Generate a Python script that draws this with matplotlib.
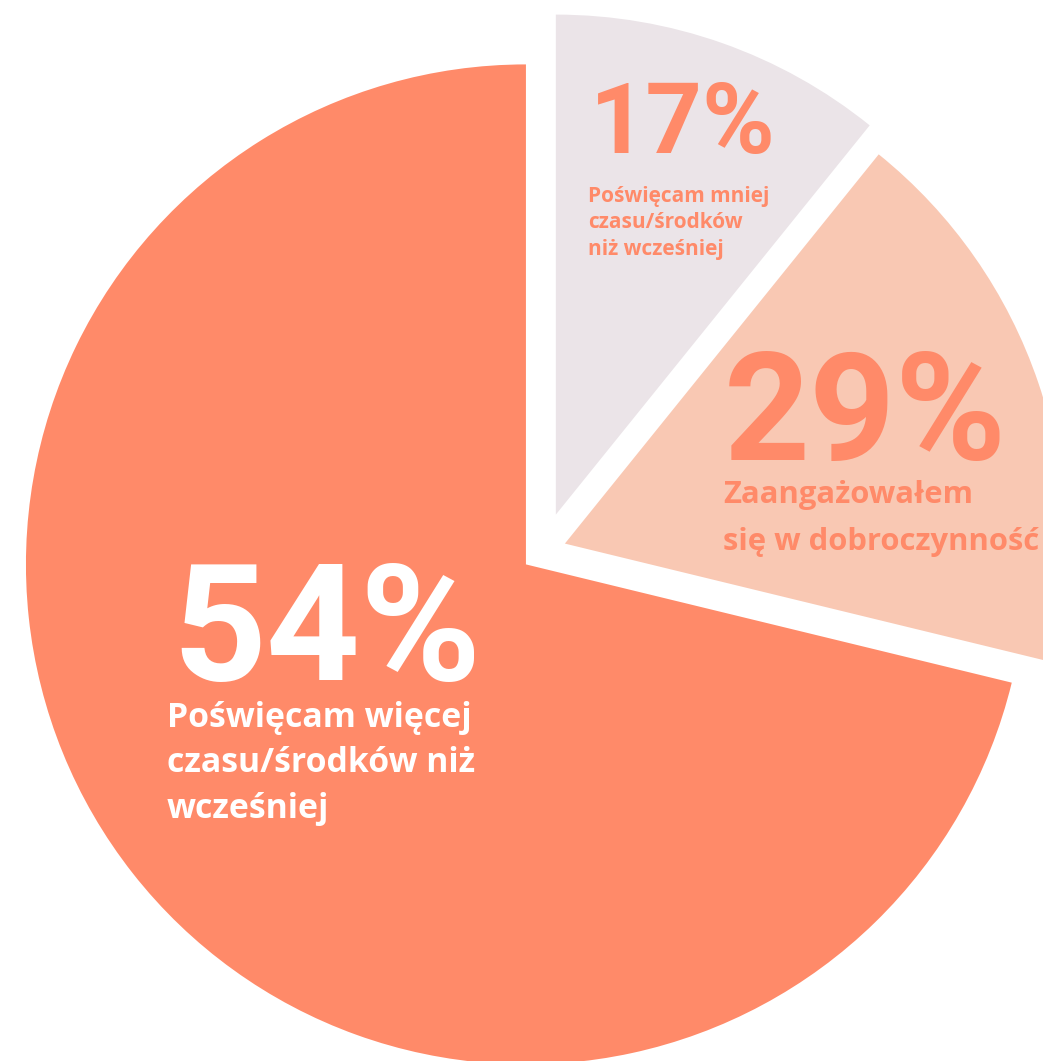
import matplotlib.pyplot as plt

# wedge sizes as drawn (share of the circle) and the printed labels
wedge_share = [10.8, 18.0, 71.2]
pct_labels = ['17%', '29%', '54%']
descriptions = [['Poświęcam mniej', 'czasu/środków', 'niż wcześniej'],
                ['Zaangażowałem', 'się w dobroczynność'],
                ['Poświęcam więcej', 'czasu/środków niż', 'wcześniej']]
explode = [38.6, 23.1, 21.7]  # data units (px)

salmon = '#FF8A69'
colors = ['#EBE4E8', '#F9C8B3', salmon]

W, H = 1043, 1061
fig = plt.figure(figsize=(W / 100, H / 100), dpi=100)
ax = fig.add_axes([0, 0, 1, 1])

ax.pie(wedge_share, colors=colors, startangle=90, counterclock=False,
       radius=500, center=(543, H - 551), explode=explode)
ax.set_xlim(0, W)
ax.set_ylim(0, H)
ax.set_aspect('equal')
ax.axis('off')

num_font = 'Roboto'
txt_font = 'Open Sans'

def py(y):
  # pixel row (from top) -> data y
  return H - y

def block(x, y0, step, lines, size, color):
  for i, line in enumerate(lines):
    ax.text(x, py(y0 + i * step), line, color=color, fontsize=size,
            fontweight='bold', family=txt_font, va='baseline', ha='left')

# 17%
ax.text(590, py(153), pct_labels[0], color=salmon, fontsize=71, fontweight='bold',
        family=num_font, va='baseline', ha='left')
block(588, 202, 26.5, descriptions[0], 15, salmon)

# 29%
ax.text(724, py(460), pct_labels[1], color=salmon, fontsize=108, fontweight='bold',
        family=num_font, va='baseline', ha='left')
block(723, 503, 47, descriptions[1], 22.3, salmon)

# 54%
ax.text(172, py(680), pct_labels[2], color='white', fontsize=118, fontweight='bold',
        family=num_font, va='baseline', ha='left')
block(167, 727, 45.5, descriptions[2], 24.4, 'white')

plt.savefig('out.png', dpi=100)
